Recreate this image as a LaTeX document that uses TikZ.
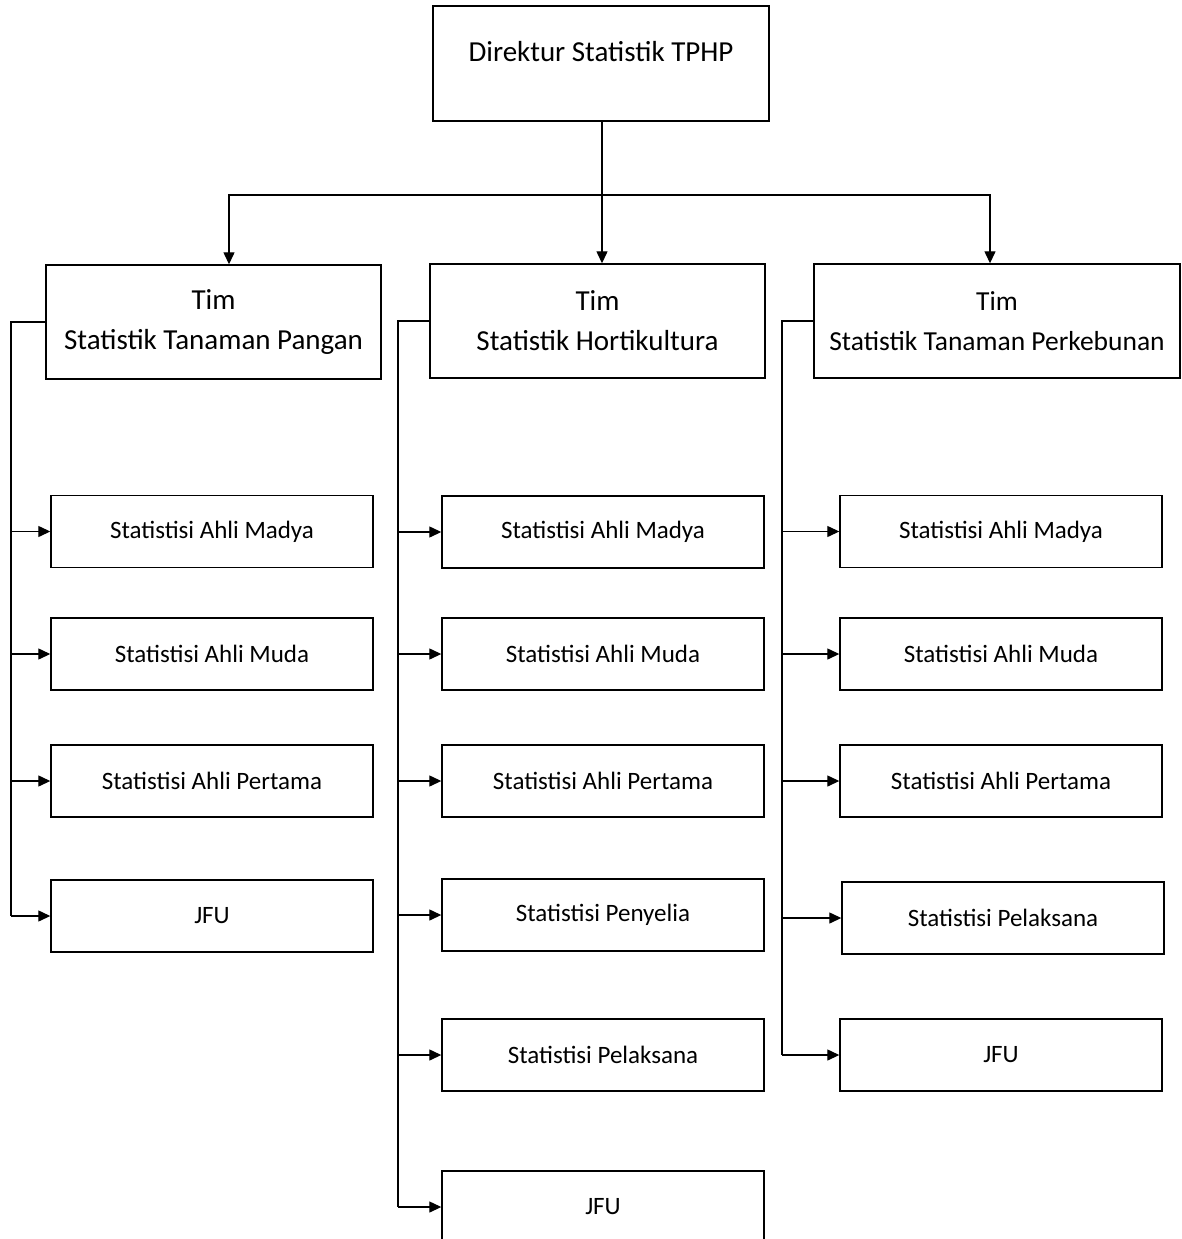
\documentclass[tikz,border=0pt]{standalone}
\usepackage{fontspec}
\setmainfont{Carlito}
\usetikzlibrary{arrows.meta}

\tikzset{
  headbox/.style={draw, line width=1.4pt, minimum width=336pt, minimum height=115pt, inner sep=0pt, text depth=24pt, font=\fontsize{29}{36}\selectfont},
  timbox/.style={draw, line width=1.4pt, minimum height=114pt, align=center, inner sep=0pt, font=\fontsize{29}{40}\selectfont},
  unitbox/.style={draw, line width=1.4pt, minimum width=322pt, minimum height=72pt, inner sep=0pt, font=\fontsize{25}{30}\selectfont},
  bus/.style={line width=1.3pt},
  link/.style={line width=1.3pt, -{Triangle[length=12pt,width=11pt]}},
}

\begin{document}
\begin{tikzpicture}[x=1pt,y=-1pt]
  \useasboundingbox (0,0) rectangle (1181,1239);

  % direktur and the three teams
  \node[headbox] (dir) at (601,63.5) {Direktur Statistik TPHP};
  \node[timbox, minimum width=335pt] (pangan) at (213.5,322) {Tim\\Statistik Tanaman Pangan};
  \node[timbox, minimum width=335pt] (horti) at (597.5,321) {Tim\\Statistik Hortikultura};
  \node[timbox, minimum width=366pt, font=\fontsize{27.5}{40}\selectfont] (kebun) at (997,321) {Tim\\Statistik Tanaman Perkebunan};

  \coordinate (hub) at (602,195);
  \draw[link] (dir.south -| hub) -- (hub |- horti.north);
  \draw[link] (hub) -| ([xshift=15.5pt]pangan.north);
  \draw[link] (hub) -| ([xshift=-7pt]kebun.north);

  % units under each team
  \node[unitbox] (pangan1) at (212,531.5) {Statistisi Ahli Madya};
  \node[unitbox] (pangan2) at (212,654) {Statistisi Ahli Muda};
  \node[unitbox] (pangan3) at (212,781) {Statistisi Ahli Pertama};
  \node[unitbox] (pangan4) at (212,916) {JFU};

  \node[unitbox] (horti1) at (603,532) {Statistisi Ahli Madya};
  \node[unitbox] (horti2) at (603,654) {Statistisi Ahli Muda};
  \node[unitbox] (horti3) at (603,781) {Statistisi Ahli Pertama};
  \node[unitbox] (horti4) at (603,915) {Statistisi Penyelia};
  \node[unitbox] (horti5) at (603,1055) {Statistisi Pelaksana};
  \node[unitbox] (horti6) at (603,1207) {JFU};

  \node[unitbox] (kebun1) at (1001,531.5) {Statistisi Ahli Madya};
  \node[unitbox] (kebun2) at (1001,654) {Statistisi Ahli Muda};
  \node[unitbox] (kebun3) at (1001,781) {Statistisi Ahli Pertama};
  \node[unitbox] (kebun4) at (1003,918) {Statistisi Pelaksana};
  \node[unitbox] (kebun5) at (1001,1055) {JFU};

  % side buses
  \coordinate (busA) at (11,320);
  \coordinate (busB) at (398,320);
  \coordinate (busC) at (782,320);
  \draw[bus] (pangan.west) -| (busA |- pangan4.west);
  \draw[bus] (horti.west) -| (busB |- horti6.west);
  \draw[bus] (kebun.west) -| (busC |- kebun5.west);
  \foreach \i in {1,...,4}
    \draw[link] (busA |- pangan\i.west) -- (pangan\i.west);
  \foreach \i in {1,...,6}
    \draw[link] (busB |- horti\i.west) -- (horti\i.west);
  \foreach \i in {1,...,5}
    \draw[link] (busC |- kebun\i.west) -- (kebun\i.west);
\end{tikzpicture}
\end{document}
